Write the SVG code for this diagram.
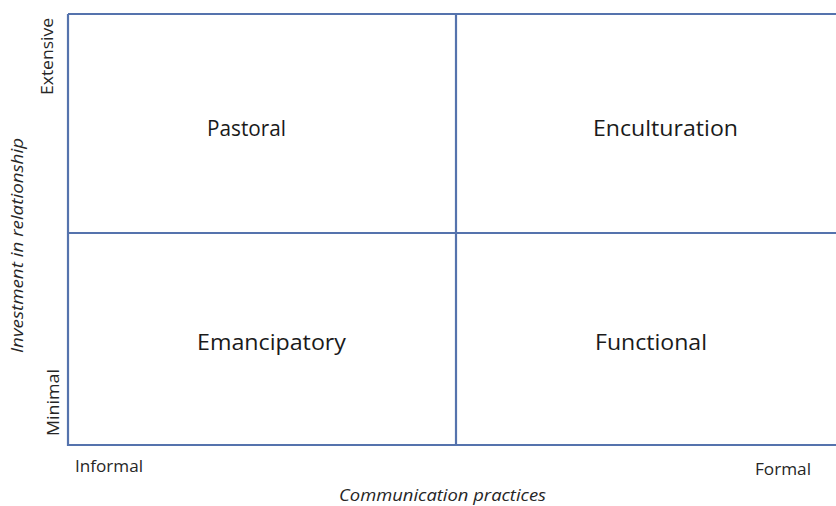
<svg xmlns="http://www.w3.org/2000/svg" width="836" height="506" viewBox="0 0 836 506">
  <style>
    .grid { stroke: #5573ad; stroke-width: 2.2; fill: none; }
    .quad { font-family: "Open Sans", "Liberation Sans", sans-serif; font-size: 22px; fill: #1a1a1a; }
    .axis { font-family: "Open Sans", "Liberation Sans", sans-serif; font-size: 16px; fill: #262626; }
    .title { font-family: "Open Sans", "Liberation Sans", sans-serif; font-size: 16px; font-style: italic; fill: #262626; }
  </style>
  <rect width="836" height="506" fill="#ffffff"/>

  <!-- Grid lines of the 2x2 matrix -->
  <g id="connectors">
    <path class="grid" d="M68 14 H836 M68 14 V445 H836 M456 14 V445 M68 233 H836"/>
  </g>

  <!-- Quadrants -->
  <g id="pastoral"><text class="quad" x="207" y="136" textLength="79" lengthAdjust="spacingAndGlyphs">Pastoral</text></g>
  <g id="enculturation"><text class="quad" x="593" y="136" textLength="145" lengthAdjust="spacingAndGlyphs">Enculturation</text></g>
  <g id="emancipatory"><text class="quad" x="197" y="350" textLength="149" lengthAdjust="spacingAndGlyphs">Emancipatory</text></g>
  <g id="functional"><text class="quad" x="595" y="350" textLength="112" lengthAdjust="spacingAndGlyphs">Functional</text></g>

  <!-- Axis end labels -->
  <g id="axis-labels">
    <text class="axis" x="75" y="472" textLength="68" lengthAdjust="spacingAndGlyphs">Informal</text>
    <text class="axis" x="755" y="475" textLength="56" lengthAdjust="spacingAndGlyphs">Formal</text>
    <text class="axis" transform="translate(53,95) rotate(-90)" textLength="77" lengthAdjust="spacingAndGlyphs">Extensive</text>
    <text class="axis" transform="translate(59,436) rotate(-90)" textLength="67" lengthAdjust="spacingAndGlyphs">Minimal</text>
  </g>

  <!-- Axis titles -->
  <g id="axis-titles">
    <text class="title" x="339" y="501" textLength="207" lengthAdjust="spacingAndGlyphs">Communication practices</text>
    <text class="title" transform="translate(23,353) rotate(-90)" textLength="215" lengthAdjust="spacingAndGlyphs">Investment in relationship</text>
  </g>
</svg>
